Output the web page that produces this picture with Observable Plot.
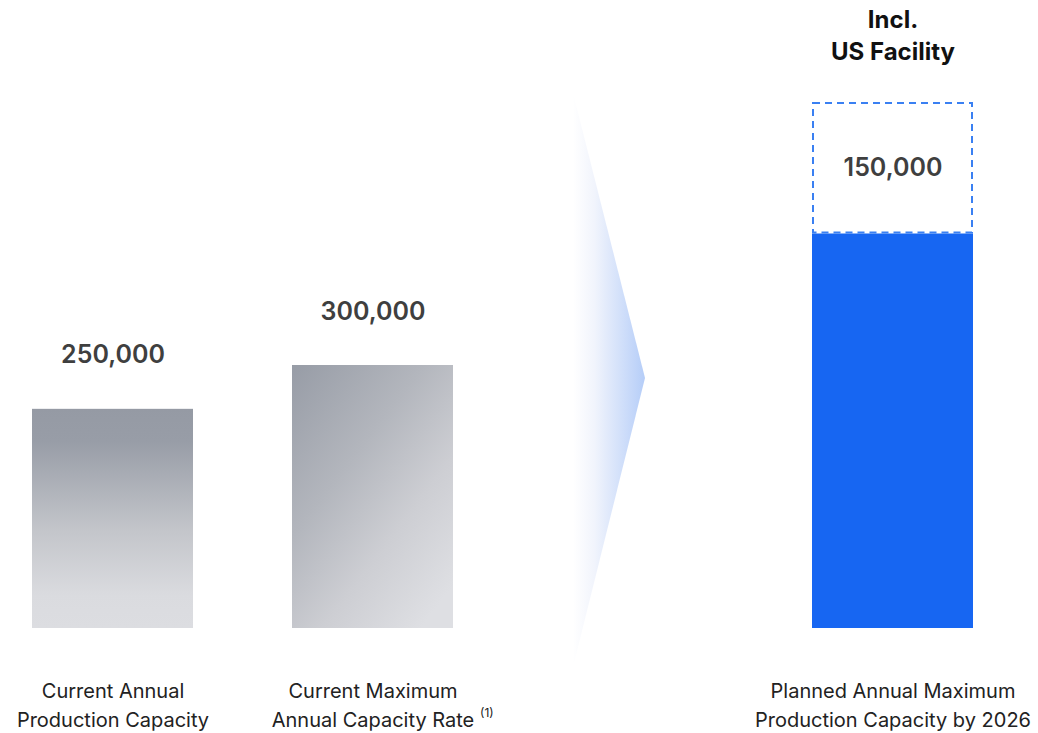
<!DOCTYPE html>
<html>
<head>
<meta charset="utf-8">
<script src="https://cdn.jsdelivr.net/npm/d3@7"></script>
<script src="https://cdn.jsdelivr.net/npm/@observablehq/plot@0.6"></script>
<style>
  html, body { margin: 0; padding: 0; background: #fff; }
  #chart svg { display: block; font-family: Inter, "Noto Sans", sans-serif; }
</style>
</head>
<body>
<div id="chart"></div>
<script>
// ---- data ----
const categories = ["Current Annual Production Capacity", "Current Maximum Annual Capacity Rate", "gap", "Planned Annual Maximum Production Capacity by 2026"];
const categoryLabels = ["Current Annual\nProduction Capacity", "Current Maximum\nAnnual Capacity Rate", "", "Planned Annual Maximum\nProduction Capacity by 2026"];
const currentValues = [250000, 300000];
const plannedBase = 450000;
const plannedUS = 150000;
const valueLabels = ["250,000", "300,000"];
const usLabel = "150,000";
const usTitle = "Incl.\nUS Facility";
const footnote = "(1)";

const current = currentValues.map((v, i) => ({cat: categories[i], value: v, label: valueLabels[i]}));
const planned = [{cat: categories[3], y1: 0, y2: plannedBase}];
const plannedTop = [{cat: categories[3], y1: plannedBase, y2: plannedBase + plannedUS, label: usLabel, mid: plannedBase + plannedUS / 2}];
const labelRows = categories.map((c, i) => ({cat: c, label: categoryLabels[i]})).filter(d => d.label);

// defs + arrow drawn relative to scales
function decorations(index, scales, values, dimensions) {
  const svgNS = "http://www.w3.org/2000/svg";
  const g = document.createElementNS(svgNS, "g");
  g.innerHTML = `
    <defs>
      <linearGradient id="g1" x1="0" y1="0" x2="0" y2="1">
        <stop offset="0" stop-color="#959aa4"/>
        <stop offset="0.15" stop-color="#989da7"/>
        <stop offset="0.55" stop-color="#c3c5ca"/>
        <stop offset="0.85" stop-color="#dadbdf"/>
        <stop offset="1" stop-color="#dcdde1"/>
      </linearGradient>
      <linearGradient id="g2" x1="0" y1="0" x2="0.8" y2="1">
        <stop offset="0" stop-color="#979ca6"/>
        <stop offset="0.4" stop-color="#b3b6bd"/>
        <stop offset="0.7" stop-color="#cdced3"/>
        <stop offset="1" stop-color="#dedfe3"/>
      </linearGradient>
      <linearGradient id="ga" x1="0" y1="0" x2="1" y2="0">
        <stop offset="0" stop-color="#ffffff" stop-opacity="1"/>
        <stop offset="0.3" stop-color="#f1f4fc"/>
        <stop offset="1" stop-color="#b5cdf8"/>
      </linearGradient>
    </defs>`;
  const bw = scales.x.bandwidth();
  const left = scales.x(categories[1]) + bw + 120;
  const tip = left + 72;
  const top = 93, bottom = 667, mid = (top + bottom) / 2;
  const poly = document.createElementNS(svgNS, "polygon");
  poly.setAttribute("points", `${left},${top} ${tip},${mid - 2} ${left},${bottom}`);
  poly.setAttribute("fill", "url(#ga)");
  g.appendChild(poly);
  return g;
}

const chart = Plot.plot({
  width: 1038,
  height: 733,
  marginLeft: 32,
  marginRight: 65,
  marginTop: 102,
  marginBottom: 105,
  x: {domain: categories, paddingInner: 0.381, paddingOuter: 0, axis: null},
  y: {domain: [0, 600000], axis: null},
  marks: [
    decorations,
    Plot.barY([current[0]], {x: "cat", y: "value", fill: "url(#g1)"}),
    Plot.barY([current[1]], {x: "cat", y: "value", fill: "url(#g2)"}),
    Plot.barY(planned, {x: "cat", y1: "y1", y2: "y2", fill: "#1766f2"}),
    Plot.barY(plannedTop, {x: "cat", y1: "y1", y2: "y2", fill: "none", stroke: "#3a80f2", strokeWidth: 2, strokeDasharray: "7,5", inset: 1}),
    Plot.text(current, {x: "cat", y: "value", text: "label", dy: -54, fontSize: 25, fontWeight: 600, fill: "#3f3f3f"}),
    Plot.text(plannedTop, {x: "cat", y: "mid", text: "label", fontSize: 25, fontWeight: 600, fill: "#3f3f3f"}),
    Plot.text(plannedTop, {x: "cat", y: "y2", text: () => usTitle, dy: -69, fontSize: 24, fontWeight: 700, fill: "#111", lineHeight: 1.35}),
    Plot.text(labelRows, {x: "cat", y: () => 0, text: "label", lineAnchor: "top", dy: 49, fontSize: 20, fill: "#222", lineHeight: 1.45}),
    Plot.text([labelRows[1]], {x: "cat", y: () => 0, text: () => footnote, lineAnchor: "top", textAnchor: "start", dy: 80, dx: 107, fontSize: 12, fill: "#222"})
  ]
});
document.getElementById("chart").appendChild(chart);
</script>
</body>
</html>
